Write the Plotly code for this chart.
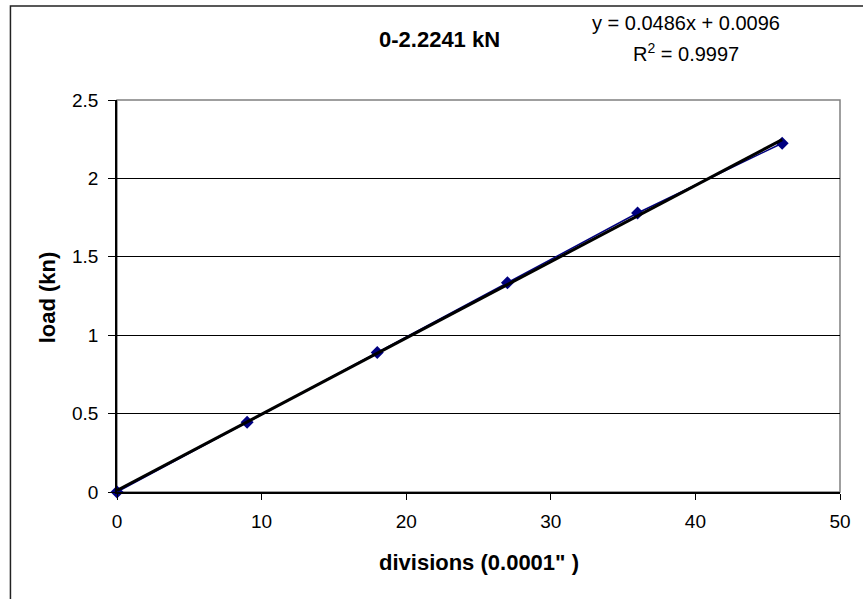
import numpy as np
import plotly.graph_objects as go

# Data
divisions = [0, 9, 18, 27, 36, 46]
load_kn = [0, 0.4448, 0.8896, 1.3345, 1.7793, 2.2241]
x_ticks = [0, 10, 20, 30, 40, 50]
y_ticks = [0, 0.5, 1, 1.5, 2, 2.5]
chart_title = "0-2.2241 kN"
x_title = "divisions (0.0001\" )"
y_title = "load (kn)"

# Linear trendline from data
slope, intercept = np.polyfit(divisions, load_kn, 1)
pred = np.polyval([slope, intercept], divisions)
ss_res = np.sum((np.array(load_kn) - pred) ** 2)
ss_tot = np.sum((np.array(load_kn) - np.mean(load_kn)) ** 2)
r2 = 1 - ss_res / ss_tot
trend_x = [min(divisions), max(divisions)]
trend_y = [slope * v + intercept for v in trend_x]

FONT = "Liberation Sans, Arial, sans-serif"
W, H = 863, 599
L, R, T, B = 117, 20, 100, 107
pw = W - L - R
ph = H - T - B

def px_x(px):
    return (px - L) / pw

def px_y(py):
    return (H - B - py) / ph

fig = go.Figure()
fig.add_trace(go.Scatter(
    x=divisions, y=load_kn, mode="lines+markers",
    line=dict(color="#000080", width=1.5),
    marker=dict(symbol="diamond", size=10, color="#000080"),
    cliponaxis=False,
    showlegend=False, hoverinfo="x+y"))
fig.add_trace(go.Scatter(
    x=trend_x, y=trend_y, mode="lines",
    line=dict(color="black", width=3),
    cliponaxis=False,
    showlegend=False, hoverinfo="skip"))

# plot area border (gray)
fig.add_shape(type="rect", xref="paper", yref="paper", x0=0, y0=0, x1=1, y1=1,
              line=dict(color="#808080", width=1.5), layer="below")
# outer chart border
fig.add_shape(type="rect", xref="paper", yref="paper",
              x0=px_x(10), y0=px_y(620), x1=px_x(880), y1=px_y(6),
              line=dict(color="#222222", width=1.5))

ann = []
ann.append(dict(text="<b>%s</b>" % chart_title, x=px_x(441), y=px_y(39),
                font=dict(size=22, color="black", family=FONT)))
ann.append(dict(text="y = %.4fx + %.4f" % (slope, intercept), x=px_x(688), y=px_y(23),
                font=dict(size=20, color="black", family=FONT)))
ann.append(dict(text="R<sup>2</sup> = %.4f" % r2, x=px_x(688), y=px_y(52),
                font=dict(size=20, color="black", family=FONT)))
ann.append(dict(text="<b>%s</b>" % x_title, x=px_x(481), y=px_y(562),
                font=dict(size=22, color="black", family=FONT)))
ann.append(dict(text="<b>%s</b>" % y_title, x=px_x(47), y=px_y(297), textangle=-90,
                font=dict(size=22, color="black", family=FONT)))
for a in ann:
    a.update(xref="paper", yref="paper", showarrow=False,
             xanchor="center", yanchor="middle")

fig.update_layout(
    width=W, height=H, autosize=False,
    margin=dict(l=L, r=R, t=T, b=B, pad=0),
    paper_bgcolor="white", plot_bgcolor="white",
    font=dict(family=FONT, size=19, color="black"),
    annotations=ann,
    xaxis=dict(range=[0, 50], tickvals=x_ticks, ticks="outside", ticklen=6,
               tickcolor="black", showline=True, linecolor="black", linewidth=1.5,
               showgrid=False, zeroline=False, tickfont=dict(size=19),
               ticklabelstandoff=5),
    yaxis=dict(range=[0, 2.5], tickvals=y_ticks, ticks="outside", ticklen=7,
               tickcolor="black", showline=True, linecolor="black", linewidth=1.5,
               showgrid=True, gridcolor="black", gridwidth=1, zeroline=False,
               tickfont=dict(size=19), ticklabelstandoff=6),
)

fig.write_html("out.html")
